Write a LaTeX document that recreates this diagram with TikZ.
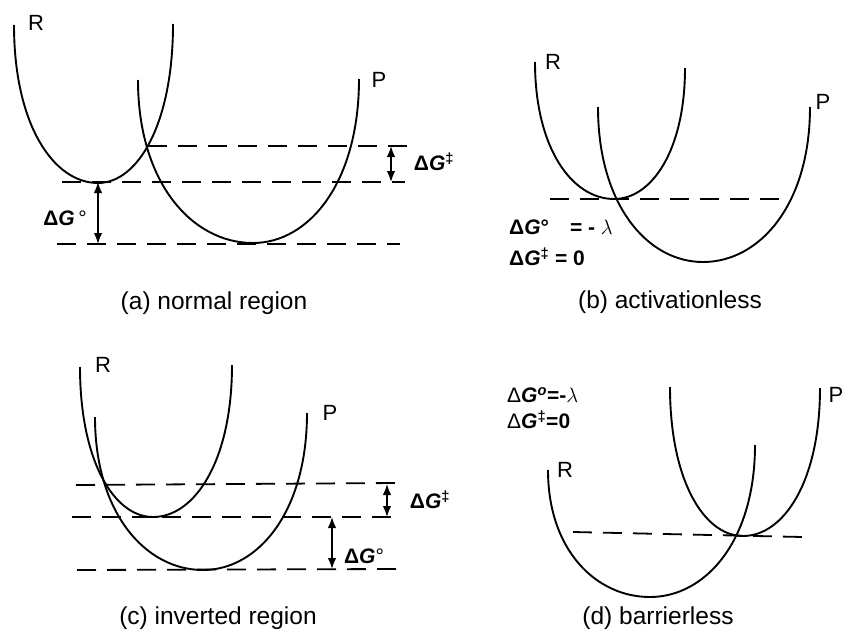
\documentclass[tikz,border=0pt]{standalone}
\usepackage{fontspec}
\setmainfont{Liberation Sans}
\usetikzlibrary{arrows.meta}
\tikzset{
  curve/.style={line width=1.9pt},
  dline/.style={line width=1.8pt, dash pattern=on 19pt off 11pt},
  darrow/.style={line width=1.6pt, {Latex[length=11pt,width=8.5pt]}-{Latex[length=11pt,width=8.5pt]}},
  lbl/.style={font=\fontsize{22}{22}\selectfont, inner sep=0pt},
  glbl/.style={font=\fontsize{21}{21}\selectfont, inner sep=0pt},
  capt/.style={font=\fontsize{24.5}{24.5}\selectfont, inner sep=0pt},
  eqn/.style={font=\fontsize{21}{24}\selectfont\bfseries, inner sep=0pt, anchor=west},
}
\newcommand{\ucurve}[6]{%
  \draw[curve] (#1,#2) .. controls (#1,{#2+0.63*(#4-#2)}) and ({#3-0.53*(#3-#1)},#4) .. (#3,#4)
     .. controls ({#3+0.53*(#5-#3)},#4) and (#5,{#6+0.63*(#4-#6)}) .. (#5,#6);}
\newcommand{\dGo}{{\bfseries Δ\itshape G}}
\begin{document}
\begin{tikzpicture}[x=1pt,y=-1pt]
\useasboundingbox (0,0) rectangle (844,632);
% ---------------- (a) normal region
\ucurve{14}{25}{98}{183}{173}{24}
\ucurve{138}{80}{253}{243}{359}{79}
\draw[dline] (148,146) -- (415,146);
\draw[dline] (62,182) -- (405,182);
\draw[dline] (57,244) -- (400,244);
\coordinate (a1t) at (98,182); \coordinate (a1b) at (98,244);
\coordinate (a2t) at (391,146); \coordinate (a2b) at (391,182);
\draw[darrow] (a1t) -- (a1b);
\draw[darrow] (a2t) -- (a2b);
\node[lbl] (aR) at (36,23) {R};
\node[lbl] (aP) at (379,80) {P};
\node[glbl] (aGo) at (65,218) {\dGo\,°};
\node[glbl] (aGd) at (434,162) {\dGo\textsuperscript{\bfseries ‡}};
\node[capt] (acap) at (214,303) {(a) normal region};
% ---------------- (b) activationless
\ucurve{535}{62}{614}{199}{685}{68}
\ucurve{598}{107}{703}{262}{810}{107}
\draw[dline] (550,199) -- (783,199);
\node[lbl] (bR) at (553,62) {R};
\node[lbl] (bP) at (823,102) {P};
\node[eqn] (b1) at (509,227) {\dGo°\quad= - $\lambda$};
\node[eqn] (b2) at (509,257) {\dGo\textsuperscript{‡} = 0};
\node[capt] (bcap) at (670,302) {(b) activationless};
% ---------------- (c) inverted region
\ucurve{80}{367}{153}{517}{232}{365}
\ucurve{95}{417}{203}{570}{307}{413}
\draw[dline] (76,485) -- (397,483);
\draw[dline] (72,517) -- (398,517);
\draw[dline] (77,570) -- (397,569);
\coordinate (c1t) at (387,484); \coordinate (c1b) at (387,517);
\coordinate (c2t) at (332,517); \coordinate (c2b) at (332,569);
\draw[darrow] (c1t) -- (c1b);
\draw[darrow] (c2t) -- (c2b);
\node[lbl] (cR) at (103,365) {R};
\node[lbl] (cP) at (330,413) {P};
\node[glbl] (cGd) at (430,500) {\dGo\textsuperscript{\bfseries ‡}};
\node[glbl] (cGo) at (364,556) {\dGo°};
\node[capt] (ccap) at (218,618) {(c) inverted region};
% ---------------- (d) barrierless
\ucurve{548}{470}{650}{597}{755}{445}
\ucurve{670}{387}{743}{536}{820}{388}
\draw[dline] (573,532) -- (802,537);
\node[lbl] (dR) at (565,470) {R};
\node[lbl] (dP) at (836,395) {P};
\node[eqn] (d1) at (507,395) {{\mdseries Δ}{\itshape G\textsuperscript{o}}=-{\mdseries$\lambda$}};
\node[eqn] (d2) at (507,420) {{\mdseries Δ}{\itshape G}\textsuperscript{‡}=0};
\node[capt] (dcap) at (658,618) {(d) barrierless};
\end{tikzpicture}
\end{document}
